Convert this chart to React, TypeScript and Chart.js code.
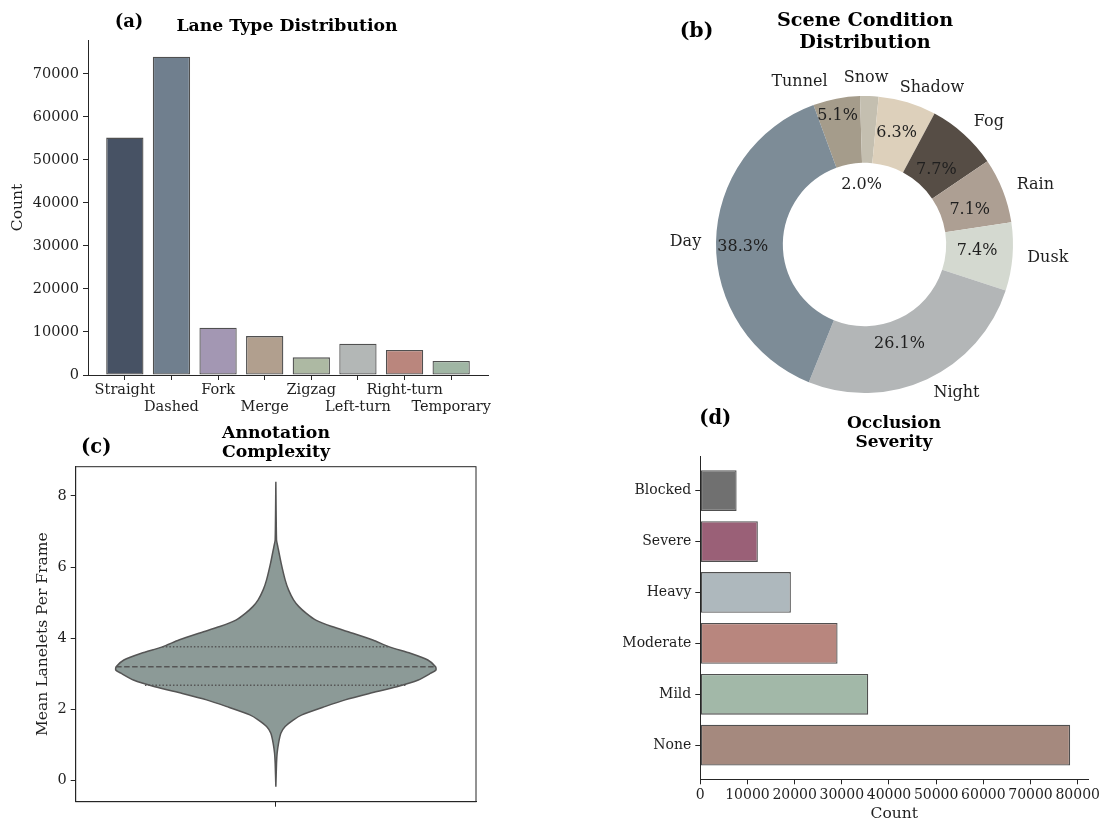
import React, { useEffect, useRef } from 'react';
import { Chart, registerables } from 'chart.js';

Chart.register(...registerables);

const SERIF = "'DejaVu Serif', 'Liberation Serif', serif";
const INK = '#262626';
const TEXT = '#1f1f1f';
const EDGE = '#505050';

// (a) Lane type distribution
const LANE_TYPES = ['Straight', 'Dashed', 'Fork', 'Merge', 'Zigzag', 'Left-turn', 'Right-turn', 'Temporary'];
const LANE_COUNTS = [55200, 74000, 11000, 9050, 4100, 7250, 5800, 3250];
const LANE_COLORS = ['#475264', '#707f8e', '#a397b3', '#b19f8e', '#adb9a3', '#b3b7b6', '#ba867d', '#a0b6a4'];
const LANE_Y_TICKS = [0, 10000, 20000, 30000, 40000, 50000, 60000, 70000];

// (b) Scene condition shares (percent)
const SCENES = ['Day', 'Night', 'Dusk', 'Rain', 'Fog', 'Shadow', 'Snow', 'Tunnel'];
const SCENE_SHARE = [38.3, 26.1, 7.4, 7.1, 7.7, 6.3, 2.0, 5.1];
const SCENE_COLORS = ['#7d8c97', '#b3b6b7', '#d4d9d0', '#ad9f93', '#564d45', '#ddd0bb', '#c4bfb0', '#a59c8b'];

// (c) Mean lanelets per frame: density outline (half-width at each level) and quartiles
const VIOLIN_LEVELS = [-0.17, 0.49, 0.77, 1.05, 1.33, 1.52, 1.71, 1.85, 2.08, 2.27, 2.45, 2.64, 2.83, 3.02, 3.11, 3.2, 3.39, 3.58, 3.76, 3.95, 4.14, 4.33, 4.51, 4.7, 4.89, 5.08, 5.36, 5.64, 6.11, 6.57, 6.76, 8.4];
const VIOLIN_HALF = [0, 0.0017, 0.0032, 0.0067, 0.0125, 0.0232, 0.0442, 0.065, 0.1224, 0.1731, 0.2336, 0.3023, 0.356, 0.3872, 0.4, 0.399, 0.3797, 0.336, 0.2835, 0.2423, 0.1924, 0.1399, 0.0999, 0.0762, 0.0575, 0.0442, 0.0317, 0.0232, 0.0132, 0.005, 0.0017, 0];
const QUARTILES = [2.68, 3.2, 3.76];
const QUARTILE_HALF = [0.327, 0.399, 0.2835];
const VIOLIN_Y_TICKS = [0, 2, 4, 6, 8];

// (d) Occlusion severity
const OCCLUSION = ['Blocked', 'Severe', 'Heavy', 'Moderate', 'Mild', 'None'];
const OCCLUSION_COUNTS = [7700, 12200, 19200, 29100, 35600, 78400];
const OCCLUSION_COLORS = ['#707070', '#9a6077', '#aeb8bd', '#b8867e', '#a2b8a8', '#a5897e'];
const OCCLUSION_X_TICKS = [0, 10000, 20000, 30000, 40000, 50000, 60000, 70000, 80000];

// Label placement for the doughnut: [angle offset in degrees, radius factor]
const PCT_POLAR: [number, number][] = [[-2, 0.82], [5.6, 0.71], [-1.5, 0.76], [2.9, 0.747], [1.7, 0.7], [-0.7, 0.78], [-4.6, 0.4], [-0.9, 0.886]];
// Nudges for category names around the doughnut: [dx, dy]
const NAME_NUDGE: [number, number][] = [[0, 0], [0, 0], [0, 0], [0, 0], [0, -1], [-12, 0], [-26, -3], [-6, -2]];

type Caption = { text: string; x: number; y: number; size: number };

const captionPlugin = (captions: Caption[]) => ({
  id: 'captions',
  afterDraw(chart: any) {
    const ctx = chart.ctx;
    ctx.save();
    ctx.fillStyle = '#000';
    ctx.textAlign = 'center';
    ctx.textBaseline = 'middle';
    captions.forEach((c) => {
      ctx.font = `bold ${c.size}px ${SERIF}`;
      ctx.fillText(c.text, c.x, c.y);
    });
    ctx.restore();
  },
});

const font = (size: number) => ({ family: SERIF, size });
const plain = (v: any) => String(v);
const tickGrid = { display: true, drawOnChartArea: false, drawTicks: true, tickLength: 5, color: INK, lineWidth: 1, offset: false };
const spine = { display: true, color: INK, width: 1 };
const noInteract = { legend: { display: false }, tooltip: { enabled: false } };

function laneConfig(): any {
  return {
    type: 'bar',
    data: {
      datasets: [{
        data: LANE_COUNTS.map((v, i) => ({ x: i, y: v })),
        backgroundColor: LANE_COLORS,
        borderColor: EDGE,
        borderWidth: 1.3,
        borderSkipped: false,
        barPercentage: 0.8,
        categoryPercentage: 1,
      }],
    },
    options: {
      animation: false, responsive: false, events: [],
      layout: { padding: { top: 40, right: 62, left: 0, bottom: 0 } },
      plugins: noInteract,
      scales: {
        x: {
          type: 'linear', min: -0.79, max: 7.79, offset: false,
          afterBuildTicks: (s: any) => { s.ticks = LANE_TYPES.map((_, i) => ({ value: i })); },
          ticks: {
            autoSkip: false, maxRotation: 0, minRotation: 0, color: TEXT, font: font(14.5), padding: 1.3,
            callback: (v: any) => (Number(v) % 2 === 1 ? ['', LANE_TYPES[Number(v)]] : LANE_TYPES[Number(v)]),
          },
          grid: tickGrid, border: spine,
          afterFit: (s: any) => { s.height = 45; },
        },
        y: {
          type: 'linear', min: 0, max: 77900,
          afterBuildTicks: (s: any) => { s.ticks = LANE_Y_TICKS.map((v) => ({ value: v })); },
          ticks: { color: TEXT, font: font(14.5), padding: 4, callback: plain },
          grid: tickGrid, border: spine,
          title: { display: true, text: 'Count', color: TEXT, font: font(15.5), padding: { top: 9, bottom: 0 } },
          afterFit: (s: any) => { s.width = 88; },
        },
      },
    },
    plugins: [captionPlugin([
      { text: '(a)', x: 129, y: 22.7, size: 18 },
      { text: 'Lane Type Distribution', x: 287, y: 26.7, size: 17.3 },
    ])],
  };
}

function sceneConfig(): any {
  const order = SCENES.map((_, i) => SCENES.length - 1 - i);
  const labelPlugin = {
    id: 'sceneLabels',
    afterDatasetsDraw(chart: any) {
      const ctx = chart.ctx;
      const meta = chart.getDatasetMeta(0);
      ctx.save();
      ctx.fillStyle = TEXT;
      ctx.font = `16px ${SERIF}`;
      ctx.textBaseline = 'middle';
      meta.data.forEach((arc: any, k: number) => {
        const i = order[k];
        const p = arc.getProps(['x', 'y', 'startAngle', 'endAngle', 'outerRadius'], true);
        const mid = (p.startAngle + p.endAngle) / 2;
        const [ndx, ndy] = NAME_NUDGE[i];
        ctx.textAlign = Math.cos(mid) >= 0 ? 'left' : 'right';
        ctx.fillText(SCENES[i], p.x + Math.cos(mid) * p.outerRadius * 1.1 + ndx, p.y + Math.sin(mid) * p.outerRadius * 1.1 + ndy);
        const [dAng, rf] = PCT_POLAR[i];
        const a = mid + (dAng * Math.PI) / 180;
        ctx.textAlign = 'center';
        ctx.fillText(`${SCENE_SHARE[i].toFixed(1)}%`, p.x + Math.cos(a) * p.outerRadius * rf, p.y + Math.sin(a) * p.outerRadius * rf);
      });
      ctx.restore();
    },
  };
  return {
    type: 'doughnut',
    data: {
      labels: order.map((i) => SCENES[i]),
      datasets: [{
        data: order.map((i) => SCENE_SHARE[i]),
        backgroundColor: order.map((i) => SCENE_COLORS[i]),
        borderWidth: 0,
        hoverOffset: 0,
      }],
    },
    options: {
      animation: false, responsive: false, events: [],
      rotation: -20.1,
      cutout: '55%',
      layout: { padding: { left: 116, top: 96, right: 92, bottom: 27 } },
      plugins: noInteract,
    },
    plugins: [labelPlugin, captionPlugin([
      { text: '(b)', x: 96.5, y: 31.7, size: 20.5 },
      { text: 'Scene Condition', x: 265, y: 21, size: 19.2 },
      { text: 'Distribution', x: 265, y: 42.7, size: 19.2 },
    ])],
  };
}

function violinConfig(): any {
  const right = VIOLIN_LEVELS.map((v, i) => ({ x: VIOLIN_HALF[i], y: v }));
  const left = VIOLIN_LEVELS.map((v, i) => ({ x: -VIOLIN_HALF[i], y: v })).reverse();
  const dashes = [[1.5, 2], [5.5, 2.5], [1.5, 2]];
  const quartileSets = QUARTILES.map((q, k) => ({
    data: [{ x: -QUARTILE_HALF[k], y: q }, { x: QUARTILE_HALF[k], y: q }],
    showLine: true, pointRadius: 0, borderColor: '#555555', borderWidth: 1.5, borderDash: dashes[k], fill: false,
  }));
  const boxPlugin = {
    id: 'frame',
    afterDraw(chart: any) {
      const { ctx, chartArea: a } = chart;
      ctx.save();
      ctx.strokeStyle = INK;
      ctx.lineWidth = 1;
      ctx.strokeRect(a.left, a.top, a.right - a.left, a.bottom - a.top);
      ctx.restore();
    },
  };
  return {
    type: 'scatter',
    data: {
      datasets: [
        ...quartileSets,
        {
          data: [...right, ...left],
          showLine: true, pointRadius: 0, tension: 0.2,
          backgroundColor: '#8c9a97', borderColor: '#555555', borderWidth: 1.5, fill: 'shape',
        },
      ],
    },
    options: {
      animation: false, responsive: false, events: [],
      layout: { padding: { top: 46.7, right: 74, left: 0, bottom: 0 } },
      plugins: noInteract,
      scales: {
        x: {
          type: 'linear', min: -0.5, max: 0.5, offset: false,
          afterBuildTicks: (s: any) => { s.ticks = [{ value: 0 }]; },
          ticks: { callback: () => '', font: font(14.5) },
          grid: tickGrid, border: spine,
          afterFit: (s: any) => { s.height = 22.3; },
        },
        y: {
          type: 'linear', min: -0.59, max: 8.82,
          afterBuildTicks: (s: any) => { s.ticks = VIOLIN_Y_TICKS.map((v) => ({ value: v })); },
          ticks: { color: TEXT, font: font(14.5), padding: 4, callback: plain },
          grid: tickGrid, border: spine,
          title: { display: true, text: 'Mean Lanelets Per Frame', color: TEXT, font: font(15.5), padding: { top: 34, bottom: 0 } },
          afterFit: (s: any) => { s.width = 75.7; },
        },
      },
    },
    plugins: [boxPlugin, captionPlugin([
      { text: '(c)', x: 96.2, y: 28.3, size: 19.5 },
      { text: 'Annotation', x: 276, y: 14, size: 17.3 },
      { text: 'Complexity', x: 276, y: 32.7, size: 17.3 },
    ])],
  };
}

function occlusionConfig(): any {
  return {
    type: 'bar',
    data: {
      datasets: [{
        data: OCCLUSION_COUNTS.map((v, i) => ({ x: v, y: i })),
        backgroundColor: OCCLUSION_COLORS,
        borderColor: EDGE,
        borderWidth: 1.3,
        borderSkipped: false,
        barPercentage: 0.8,
        categoryPercentage: 1,
      }],
    },
    options: {
      animation: false, responsive: false, events: [],
      indexAxis: 'y',
      layout: { padding: { top: 56, right: 16.7, left: 0, bottom: 0 } },
      plugins: noInteract,
      scales: {
        y: {
          type: 'linear', reverse: true, min: -0.68, max: 5.67, offset: false,
          afterBuildTicks: (s: any) => { s.ticks = OCCLUSION.map((_, i) => ({ value: i })); },
          ticks: { autoSkip: false, color: TEXT, font: font(14), padding: 4, callback: (v: any) => OCCLUSION[Number(v)] },
          grid: tickGrid, border: spine,
          afterFit: (s: any) => { s.width = 100.3; },
        },
        x: {
          type: 'linear', min: 0, max: 82250, offset: false,
          afterBuildTicks: (s: any) => { s.ticks = OCCLUSION_X_TICKS.map((v) => ({ value: v })); },
          ticks: { autoSkip: false, maxRotation: 0, minRotation: 0, color: TEXT, font: font(14), padding: 2.3, callback: plain },
          grid: tickGrid, border: spine,
          title: { display: true, text: 'Count', color: TEXT, font: font(15.5), padding: { top: 0, bottom: 0.7 } },
          afterFit: (s: any) => { s.height = 44.7; },
        },
      },
    },
    plugins: [captionPlugin([
      { text: '(d)', x: 115.3, y: 19, size: 19.5 },
      { text: 'Occlusion', x: 294, y: 23.3, size: 17 },
      { text: 'Severity', x: 294, y: 42.3, size: 17 },
    ])],
  };
}

type PanelProps = { left: number; top: number; width: number; height: number; make: () => any };

function Panel({ left, top, width, height, make }: PanelProps) {
  const ref = useRef<HTMLCanvasElement>(null);
  useEffect(() => {
    const chart = new Chart(ref.current as HTMLCanvasElement, make());
    return () => chart.destroy();
  }, [make]);
  return (
    <canvas
      ref={ref}
      width={width}
      height={height}
      style={{ position: 'absolute', left, top, width, height }}
    />
  );
}

export default function App() {
  return (
    <div style={{ position: 'absolute', left: 0, top: 0, width: 1105, height: 824, background: '#ffffff', overflow: 'hidden' }}>
      <Panel left={0} top={0} width={550} height={420} make={laneConfig} />
      <Panel left={600} top={0} width={505} height={420} make={sceneConfig} />
      <Panel left={0} top={420} width={550} height={404} make={violinConfig} />
      <Panel left={600} top={400} width={505} height={424} make={occlusionConfig} />
    </div>
  );
}
